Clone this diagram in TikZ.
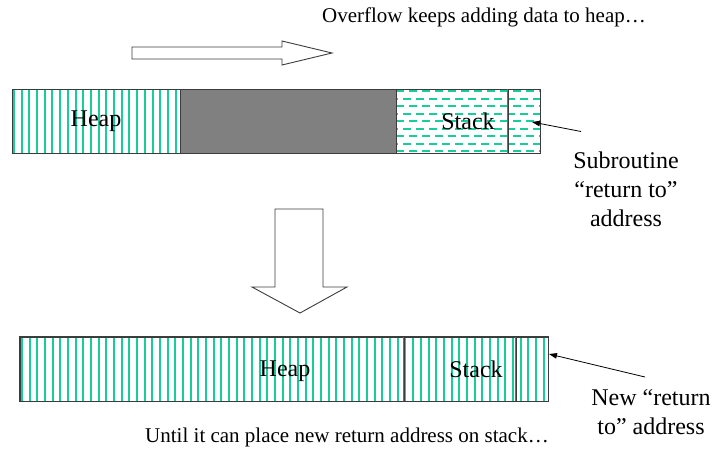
\documentclass[tikz,border=0pt]{standalone}
\usepackage{fontspec}
\setmainfont{Liberation Serif}
\usetikzlibrary{arrows.meta}
\definecolor{hatch}{RGB}{25,205,155}
\definecolor{boxgray}{RGB}{128,128,128}
\definecolor{edge}{RGB}{60,60,60}
\definecolor{divgray}{RGB}{110,110,110}
\begin{document}
\begin{tikzpicture}[x=1pt,y=-1pt,
  box/.style={draw=edge, line width=1pt, inner sep=0pt, minimum height=64pt},
  lbl/.style={font=\fontsize{24}{29}\selectfont, inner sep=0pt, align=center},
  captext/.style={font=\fontsize{21}{25}\selectfont, inner sep=0pt},
  hatchline/.style={draw=hatch, line width=2pt},
  dashline/.style={draw=hatch, line width=2pt, dash pattern=on 8pt off 5pt},
  divline/.style={draw=divgray, line width=1.2pt},
  pointer/.style={-{Triangle[length=8pt,width=5.5pt]}, line width=0.8pt, black},
  block/.style={draw=edge, line width=0.9pt, fill=white, line join=miter}]
\useasboundingbox (0,0) rectangle (714,448);
\fill[white] (0,0) rectangle (714,448);

% hatching of the top heap
\begin{scope}
  \clip (12,89) rectangle (180,153);
  \foreach \i in {0,...,22} \draw[hatchline] ({14+round(\i*7.7)},89) -- ({14+round(\i*7.7)},153);
\end{scope}
% dashes of the top stack
\begin{scope}
  \clip (396,89) rectangle (540,153);
  \foreach \r [evaluate=\r as \ph using {mod(\r,2)*6}] in {0,...,8}
    \draw[dashline, dash phase=\ph pt] (396,{91+round(\r*7.5)}) -- (540,{91+round(\r*7.5)});
\end{scope}
% hatching of the bottom bar
\begin{scope}
  \clip (20,337) rectangle (548,401);
  \foreach \i in {0,...,69} \draw[hatchline] ({22+round(\i*7.67)},337) -- ({22+round(\i*7.67)},401);
\end{scope}

% top bar
\node[box, lbl, minimum width=168pt] (heapT) at (96,121) {Heap};
\node[box, minimum width=216pt, fill=boxgray] (freeT) at (288,121) {};
\node[box, lbl, minimum width=144pt] (stackT) at (468,121) {Stack};
\node[box, minimum width=32pt] (retT) at (524,121) {};
\draw[divline] (retT.north west) -- (retT.south west);

% bottom bar
\node[box, minimum width=528pt] (barB) at (284,369) {};
\node[box, lbl, minimum width=144pt] (stackB) at (476,369) {Stack};
\node[box, minimum width=32pt] (retB) at (532,369) {};
\draw[divline] (stackB.north west) -- (stackB.south west);
\draw[divline] (retB.north west) -- (retB.south west);
\draw[draw=edge, line width=1pt] (barB.north west) rectangle (barB.south east);
\node[lbl] (heapB) at (285,371) {Heap};

% captions
\node[captext] (capT) at (484,17) {Overflow keeps adding data to heap…};
\node[captext] (capB) at (347,437) {Until it can place new return address on stack…};

% side labels
\node[lbl] (subL) at (626,189) {Subroutine\\“return to”\\address};
\node[lbl] (newL) at (651,412) {New “return\\to” address};

% pointers
\coordinate (tipT) at (532,122);
\coordinate (tailT) at (581,131.5);
\coordinate (tipB) at (549,354);
\coordinate (tailB) at (645,377);
\draw[pointer] (tailT) -- (tipT);
\draw[pointer] (tailB) -- (tipB);

% block arrows
\draw[block] (132,47) -- (282,47) -- (282,41) -- (332,53) -- (282,65) -- (282,59) -- (132,59) -- cycle;
\draw[block] (275,209) -- (323,209) -- (323,287) -- (347,287) -- (300,313) -- (252,287) -- (275,287) -- cycle;
\end{tikzpicture}
\end{document}
